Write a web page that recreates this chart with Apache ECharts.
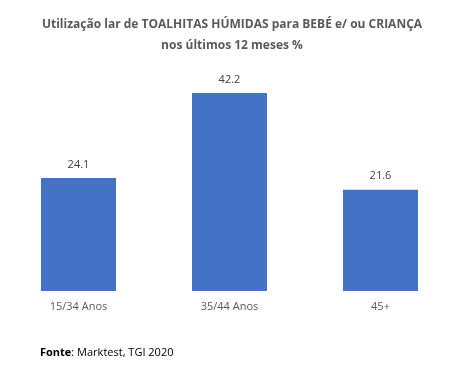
<!DOCTYPE html>
<html><head><meta charset="utf-8">
<script src="https://cdn.jsdelivr.net/npm/echarts@6/dist/echarts.min.js"></script>
<style>html,body{margin:0;padding:0;background:#fff}#c{width:464px;height:379px}</style>
</head><body><div id="c"></div>
<script>
const categories = ['15/34 Anos', '35/44 Anos', '45+'];
const values = [24.1, 42.2, 21.6];
const titleLines = ['Utilização lar de TOALHITAS HÚMIDAS para BEBÉ e/ ou CRIANÇA', 'nos últimos 12 meses %'];

const chart = echarts.init(document.getElementById('c'));
chart.setOption({
  animation: false,
  backgroundColor: '#ffffff',
  title: {
    text: titleLines.join('\n'),
    left: 'center', top: 9,
    textStyle: { fontFamily: 'Open Sans', fontWeight: 'bold', fontSize: 12, color: '#595959', lineHeight: 21 }
  },
  graphic: [{
    type: 'text', left: 40, top: 347,
    style: {
      text: '{b|Fonte}: Marktest, TGI 2020',
      rich: { b: { fontWeight: 'bold', fontFamily: 'Open Sans', fontSize: 11, fill: '#000' } },
      fontFamily: 'Open Sans', fontSize: 11, fill: '#000'
    }
  }],
  grid: { left: 3, right: 8, top: 56.4, bottom: 88 },
  xAxis: {
    type: 'category', data: categories,
    axisLine: { show: false }, axisTick: { show: false },
    axisLabel: { color: '#595959', fontFamily: 'Open Sans', fontSize: 11, margin: 10 }
  },
  yAxis: { type: 'value', min: 0, max: 50, show: false, splitLine: { show: false } },
  series: [{
    type: 'bar', data: values, barWidth: 75,
    itemStyle: { color: '#4472C4' },
    label: { show: true, position: 'top', distance: 8, color: '#404040', fontFamily: 'Open Sans', fontSize: 11, formatter: p => p.value.toFixed(1) }
  }]
});
</script></body></html>
